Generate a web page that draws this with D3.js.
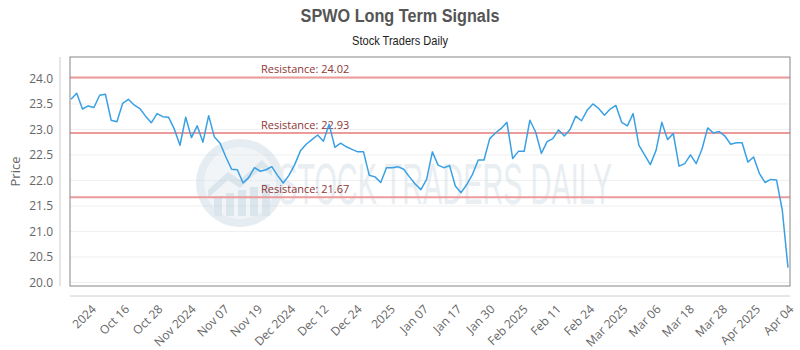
<!DOCTYPE html>
<html>
<head>
<meta charset="utf-8">
<script src="https://cdn.jsdelivr.net/npm/d3@7"></script>
<style>
  body { margin: 0; background: #fff; }
  svg { display: block; }
</style>
</head>
<body>
<div id="chart"></div>
<script>
// closing prices, one per trading day
const closes = [
  23.59, 23.71, 23.40, 23.46, 23.43, 23.67, 23.69, 23.18, 23.15, 23.51,
  23.59, 23.48, 23.41, 23.26, 23.13, 23.31, 23.25, 23.24, 23.01, 22.69,
  23.24, 22.84, 23.07, 22.75, 23.27, 22.85, 22.73, 22.46, 22.22, 22.21,
  21.95, 22.06, 22.25, 22.18, 22.21, 22.27, 22.10, 21.95, 22.10, 22.31,
  22.58, 22.71, 22.80, 22.89, 22.77, 23.10, 22.65, 22.73, 22.66, 22.61,
  22.56, 22.56, 22.10, 22.07, 21.96, 22.25, 22.25, 22.27, 22.22, 22.07,
  21.93, 21.82, 22.02, 22.56, 22.30, 22.25, 22.29, 21.89, 21.76, 21.92,
  22.12, 22.40, 22.40, 22.82, 22.93, 23.02, 23.14, 22.43, 22.57, 22.57,
  23.18, 22.95, 22.53, 22.76, 22.82, 22.99, 22.87, 23.00, 23.26, 23.17,
  23.38, 23.50, 23.41, 23.28, 23.40, 23.47, 23.14, 23.07, 23.31, 22.69,
  22.50, 22.31, 22.59, 23.14, 22.80, 22.92, 22.28, 22.33, 22.50, 22.33,
  22.61, 23.03, 22.93, 22.96, 22.87, 22.71, 22.74, 22.74, 22.36, 22.46,
  22.14, 21.96, 22.02, 22.01, 21.42, 20.29
];

const tickLabels = [
  "2024", "Oct 16", "Oct 28", "Nov 2024", "Nov 07", "Nov 19", "Dec 2024",
  "Dec 12", "Dec 24", "2025", "Jan 07", "Jan 17", "Jan 30", "Feb 2025",
  "Feb 11", "Feb 24", "Mar 2025", "Mar 06", "Mar 18", "Mar 28", "Apr 2025", "Apr 04"
];

const resistance = [24.02, 22.93, 21.67];
const yTicks = [20.0, 20.5, 21.0, 21.5, 22.0, 22.5, 23.0, 23.5, 24.0];

const width = 800, height = 350;
const plot = { left: 70, right: 790, top: 57, bottom: 286 };

const svg = d3.select("#chart")
  .append("svg")
  .attr("width", width)
  .attr("height", height);

const x = d3.scaleLinear()
  .domain([0, closes.length - 1])
  .range([71, 788]);

const y = d3.scaleLinear()
  .domain([19.93, 24.42])
  .range([plot.bottom, plot.top]);

// labels are spread evenly along the axis
const xTick = d3.scalePoint()
  .domain(tickLabels)
  .range([x(3.4), x(closes.length - 1)]);

// squeeze a text horizontally so it spans the given width (condensed look)
function condense(sel, cx, cy, targetWidth, anchor) {
  const len = sel.node().getComputedTextLength();
  const k = targetWidth / len;
  sel.attr("text-anchor", anchor || "middle")
    .attr("transform", `translate(${cx},${cy}) scale(${k},1)`);
}

// title
const title = svg.append("text")
  .style("font-family", "'Liberation Sans', Arial, sans-serif")
  .style("font-weight", "bold")
  .style("font-size", "18px")
  .style("fill", "#555")
  .text("SPWO Long Term Signals");
condense(title, 400, 22, 199);

const sub = svg.append("text")
  .style("font-family", "'Liberation Sans', Arial, sans-serif")
  .style("font-size", "13px")
  .style("fill", "#222")
  .text("Stock Traders Daily");
condense(sub, 400, 45, 96);

// grid
svg.append("g")
  .selectAll("line")
  .data(yTicks)
  .join("line")
  .attr("x1", plot.left).attr("x2", plot.right)
  .attr("y1", d => y(d)).attr("y2", d => y(d))
  .attr("stroke", "#efefef");

// watermark
const wm = svg.append("g").attr("opacity", 0.5);
wm.append("circle")
  .attr("cx", 240).attr("cy", 183).attr("r", 44)
  .attr("fill", "#cddbe6");
wm.append("circle")
  .attr("cx", 240).attr("cy", 183).attr("r", 36)
  .attr("fill", "#e4ecf2");
wm.append("path")
  .attr("d", "M208,190 L228,172 L240,180 L262,160 L272,170 L272,176 L262,168 L240,188 L228,180 L208,198 Z")
  .attr("fill", "#b9ccdb");
[214, 226, 238, 250, 262].forEach((bx, i) => {
  wm.append("rect")
    .attr("x", bx).attr("y", 196 - i * 3)
    .attr("width", 8).attr("height", 20 + i * 3)
    .attr("fill", "#b9ccdb");
});
const wmText = wm.append("text")
  .style("font-family", "'Liberation Sans', Arial, sans-serif")
  .style("font-size", "58px")
  .style("fill", "#d3dee7")
  .text("STOCK TRADERS DAILY");
condense(wmText, 278, 204, 334, "start");

// resistance lines
const res = svg.append("g");
res.selectAll("line")
  .data(resistance)
  .join("line")
  .attr("x1", plot.left).attr("x2", plot.right)
  .attr("y1", d => y(d)).attr("y2", d => y(d))
  .attr("stroke", "#ec9a9a")
  .attr("stroke-width", 2);

res.selectAll("text")
  .data(resistance)
  .join("text")
  .attr("x", 261)
  .attr("y", d => y(d) - 4)
  .style("font-family", "'Open Sans', sans-serif")
  .style("font-size", "11px")
  .style("fill", "#8e3535")
  .text(d => "Resistance: " + d.toFixed(2));

// price line
svg.append("path")
  .datum(closes)
  .attr("fill", "none")
  .attr("stroke", "#3aa0e4")
  .attr("stroke-width", 1.5)
  .attr("stroke-linejoin", "round")
  .attr("d", d3.line().x((d, i) => x(i)).y(d => y(d)));

// frame
svg.append("rect")
  .attr("x", plot.left).attr("y", plot.top)
  .attr("width", plot.right - plot.left)
  .attr("height", plot.bottom - plot.top)
  .attr("fill", "none")
  .attr("stroke", "#858585");

// y axis
const yAxis = svg.append("g")
  .attr("transform", "translate(60,0)")
  .call(d3.axisLeft(y).tickValues(yTicks).tickFormat(d3.format(".1f")).tickSize(0).tickPadding(7));
yAxis.select(".domain").attr("stroke", "#ccc").attr("d", `M0,${plot.top}V${plot.bottom}`);
yAxis.selectAll("text")
  .style("font-family", "'Open Sans', sans-serif")
  .style("font-size", "12px")
  .style("fill", "#666");

svg.append("text")
  .attr("transform", `translate(20,${(plot.top + plot.bottom) / 2}) rotate(-90)`)
  .attr("text-anchor", "middle")
  .style("font-family", "'Open Sans', sans-serif")
  .style("font-size", "13px")
  .style("fill", "#666")
  .text("Price");

// x axis
const xAxis = svg.append("g")
  .attr("transform", "translate(0,296)")
  .call(d3.axisBottom(xTick).tickSize(0).tickPadding(0));
xAxis.select(".domain").attr("stroke", "#ccc").attr("d", `M${plot.left},0H${plot.right}`);
xAxis.selectAll("text")
  .attr("text-anchor", "end")
  .attr("dy", "0.7em")
  .attr("transform", "translate(0,8) rotate(-45)")
  .style("font-family", "'Open Sans', sans-serif")
  .style("font-size", "12px")
  .style("fill", "#666");
</script>
</body>
</html>
